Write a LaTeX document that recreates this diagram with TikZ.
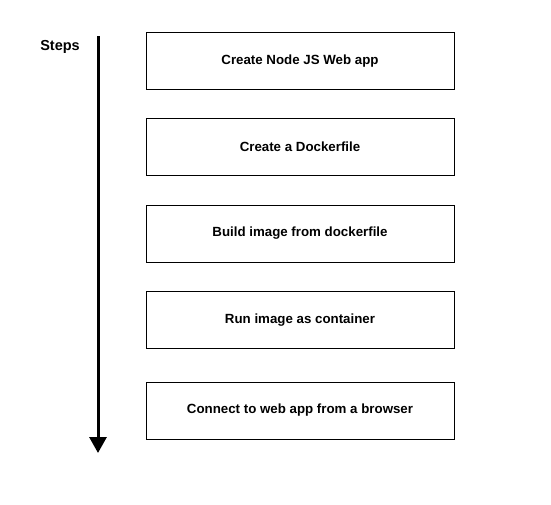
\documentclass[tikz,border=0pt]{standalone}
\usepackage{fontspec}
\setmainfont{Liberation Sans}
\usepackage{tikz}
\usetikzlibrary{arrows.meta}

\begin{document}
\begin{tikzpicture}[x=1pt, y=-1pt,
    stepbox/.style={draw, thick, minimum width=308pt, minimum height=57pt, font=\fontsize{13.3}{15}\selectfont\bfseries},
    flow/.style={line width=3pt, -{Triangle[width=17pt, length=16pt]}}]
    % Fix the page to the reference size
    \useasboundingbox (0,0) rectangle (551,504);
    
    % Draw the step boxes
    \node[stepbox] (node) at (300,61) {Create Node JS Web app};
    \node[stepbox] (dockerfile) at (300,147) {Create a Dockerfile};
    \node[stepbox] (build) at (300,233.5) {Build image from dockerfile};
    \node[stepbox] (run) at (300,320) {Run image as container};
    \node[stepbox] (connect) at (300,410.5) {Connect to web app from a browser};
    
    % Draw the steps arrow
    \node[font=\fontsize{14.5}{16}\selectfont\bfseries] (steps) at (60,47) {Steps};
    \coordinate (top) at (98,36);
    \coordinate (bottom) at (98,453);
    \draw[flow] (top) -- (bottom);
\end{tikzpicture}
\end{document}
